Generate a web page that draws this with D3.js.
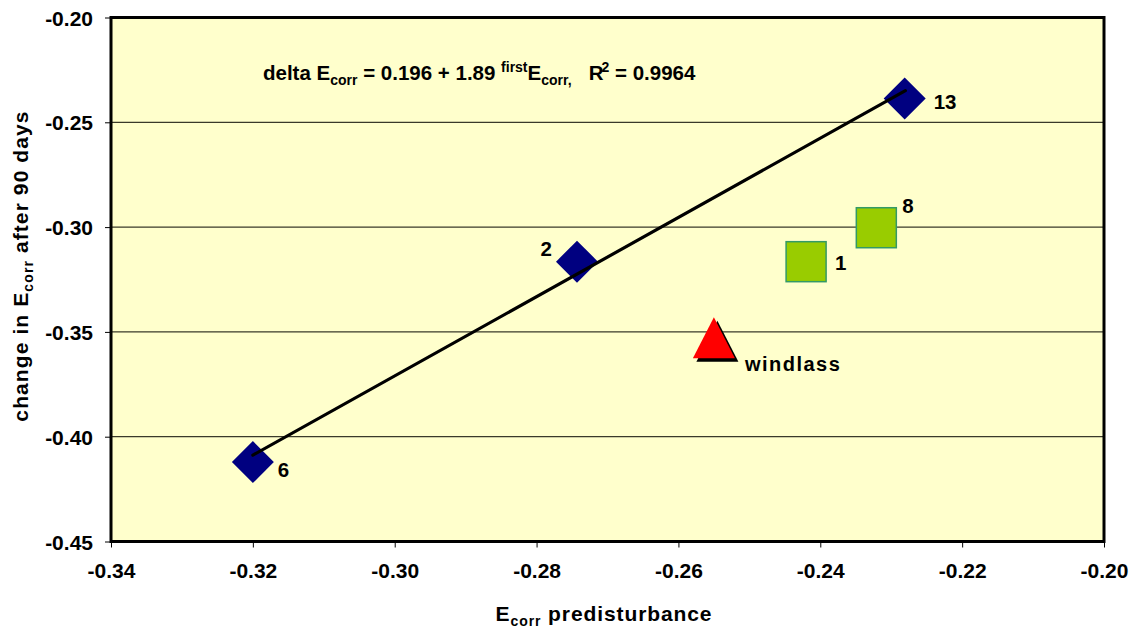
<!DOCTYPE html>
<html><head><meta charset="utf-8">
<script src="https://cdn.jsdelivr.net/npm/d3@7"></script>
<style>
html,body{margin:0;padding:0;background:#fff;}
text{font-family:"Liberation Sans",Arial,sans-serif;font-weight:bold;fill:#000;}
</style></head>
<body><svg id="c" width="1136" height="631"></svg>
<script>
// Data
const xTicks = [-0.34,-0.32,-0.30,-0.28,-0.26,-0.24,-0.22,-0.20];
const yTicks = [-0.45,-0.40,-0.35,-0.30,-0.25,-0.20];
const diamondLabels = ["6","2","13"];
const diamondX = [-0.320,-0.2743,-0.2281];
const diamondY = [-0.4121,-0.3165,-0.2386];
const squareLabels = ["1","8"];
const squareX = [-0.2420,-0.2321];
const squareY = [-0.3165,-0.3003];
const triangleLabels = ["windlass"];
const triangleX = [-0.2550];
const triangleY = [-0.3528];
const fitIntercept = 0.196, fitSlope = 1.89;
const fitRange = [-0.320,-0.228];

const svg = d3.select("#c");
const L=111, R=1104, T=17.5, B=541.5;
const x = d3.scaleLinear().domain([-0.34,-0.20]).range([L,R]);
const y = d3.scaleLinear().domain([-0.45,-0.20]).range([B,T]);
const fmt = v => d3.format(".2f")(v).replace("\u2212","-");

svg.append("rect").attr("x",L).attr("y",T).attr("width",R-L).attr("height",B-T).attr("fill","#FFFFCC");

// gridlines
svg.append("g").selectAll("line").data(yTicks.filter(v=>v>-0.45&&v<-0.20)).join("line")
  .attr("x1",L).attr("x2",R).attr("y1",d=>y(d)).attr("y2",d=>y(d))
  .attr("stroke","#3a3a2a").attr("stroke-width",1.2);

// axes
const xAxis = svg.append("g").attr("transform",`translate(0,${B})`)
  .call(d3.axisBottom(x).tickValues(xTicks).tickFormat(fmt).tickSize(6).tickPadding(16));
const yAxis = svg.append("g").attr("transform",`translate(${L},0)`)
  .call(d3.axisLeft(y).tickValues(yTicks).tickFormat(fmt).tickSize(6).tickPadding(12));
[xAxis,yAxis].forEach(a=>{
  a.select(".domain").remove();
  a.selectAll(".tick line").attr("stroke","#000").attr("stroke-width",1);
  a.selectAll(".tick text").attr("font-size",21).attr("font-family","Liberation Sans, Arial, sans-serif").attr("font-weight","bold").attr("fill","#000");
});
yAxis.selectAll(".tick text").attr("dy","0.36em");

// frame
svg.append("rect").attr("x",L).attr("y",T).attr("width",R-L).attr("height",B-T)
  .attr("fill","none").attr("stroke","#000").attr("stroke-width",3);

// diamonds
const dHalf=21;
const diamonds = diamondX.map((v,i)=>({x:v,y:diamondY[i],label:diamondLabels[i]}));
svg.append("g").selectAll("path").data(diamonds).join("path")
  .attr("d",d=>{const cx=x(d.x),cy=y(d.y);return `M${cx},${cy-dHalf}L${cx+dHalf},${cy}L${cx},${cy+dHalf}L${cx-dHalf},${cy}Z`;})
  .attr("fill","#000080");
// fit line on top of diamonds
svg.append("line")
  .attr("x1",x(fitRange[0])).attr("y1",y(fitIntercept+fitSlope*fitRange[0]))
  .attr("x2",x(fitRange[1])).attr("y2",y(fitIntercept+fitSlope*fitRange[1]))
  .attr("stroke","#000").attr("stroke-width",3.2).attr("stroke-linecap","round");

const dOff = {"6":[25,15,"start"],"2":[-25,-6,"end"],"13":[29,11,"start"]};
svg.append("g").selectAll("text").data(diamonds).join("text")
  .attr("x",d=>x(d.x)+dOff[d.label][0]).attr("y",d=>y(d.y)+dOff[d.label][1])
  .attr("text-anchor",d=>dOff[d.label][2]).attr("font-size",20.5).text(d=>d.label);

// squares
const sHalf=20;
const squares = squareX.map((v,i)=>({x:v,y:squareY[i],label:squareLabels[i]}));
svg.append("g").selectAll("rect").data(squares).join("rect")
  .attr("x",d=>x(d.x)-sHalf).attr("y",d=>y(d.y)-sHalf).attr("width",2*sHalf).attr("height",2*sHalf)
  .attr("fill","#99CC00").attr("stroke","#339966").attr("stroke-width",1.5);
const sOff = {"1":[29,8],"8":[26,-15]};
svg.append("g").selectAll("text").data(squares).join("text")
  .attr("x",d=>x(d.x)+sOff[d.label][0]).attr("y",d=>y(d.y)+sOff[d.label][1])
  .attr("font-size",20.5).text(d=>d.label);

// triangle with shadow
const tris = triangleX.map((v,i)=>({x:v,y:triangleY[i],label:triangleLabels[i]}));
const triPath=(cx,cy)=>`M${cx},${cy-20.5}L${cx+21},${cy+20.5}L${cx-21},${cy+20.5}Z`;
svg.append("g").selectAll("path.sh").data(tris).join("path")
  .attr("d",d=>triPath(x(d.x)+3.5,y(d.y)+3.5)).attr("fill","#000");
svg.append("g").selectAll("path.tr").data(tris).join("path")
  .attr("d",d=>triPath(x(d.x),y(d.y))).attr("fill","#FF0000");
svg.append("g").selectAll("text").data(tris).join("text")
  .attr("x",d=>x(d.x)+31).attr("y",d=>y(d.y)+33)
  .attr("font-size",20).attr("letter-spacing","1.5").text(d=>d.label);

// equation
const eq = svg.append("text").attr("x",263).attr("y",80).attr("font-size",20.5);
eq.append("tspan").text("delta E");
eq.append("tspan").attr("font-size",14).attr("dy",5).text("corr");
eq.append("tspan").attr("dy",-5).text(" = 0.196 + 1.89 ");
eq.append("tspan").attr("font-size",14).attr("dy",-8).text("first");
eq.append("tspan").attr("dy",8).text("E");
eq.append("tspan").attr("font-size",14).attr("dy",5).text("corr,");
eq.append("tspan").attr("dy",-5).text("\u00A0\u00A0\u00A0R");
eq.append("tspan").attr("font-size",14).attr("dy",-8).attr("dx",-2).text("2");
eq.append("tspan").attr("dy",8).text(" = 0.9964");

// x title
const xt = svg.append("text").attr("x",604).attr("y",621).attr("text-anchor","middle").attr("font-size",21).attr("letter-spacing","0.9");
xt.append("tspan").text("E");
xt.append("tspan").attr("font-size",14).attr("dy",5).text("corr");
xt.append("tspan").attr("dy",-5).text(" predisturbance");

// y title
const yt = svg.append("text").attr("transform","translate(28,266) rotate(-90)").attr("text-anchor","middle").attr("font-size",21).attr("letter-spacing","1.1");
yt.append("tspan").text("change in E");
yt.append("tspan").attr("font-size",14).attr("dy",5).text("corr");
yt.append("tspan").attr("dy",-5).text(" after 90 days");
</script></body></html>
